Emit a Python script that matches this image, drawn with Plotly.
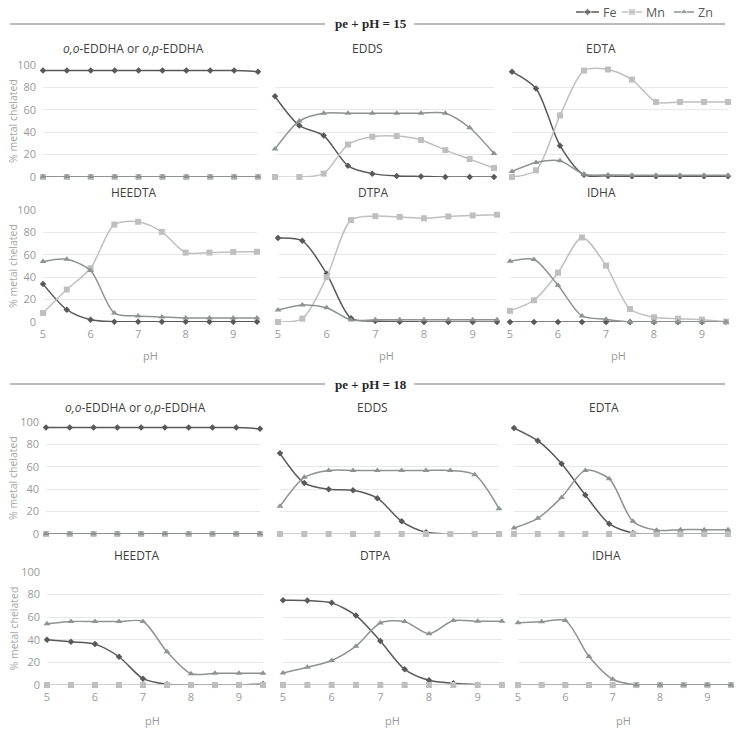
import plotly.graph_objects as go

W, H = 742, 729

ph = [5, 5.5, 6, 6.5, 7, 7.5, 8, 8.5, 9, 9.5]
ph_ticks = [5, 6, 7, 8, 9]
y_ticks = [0, 20, 40, 60, 80, 100]

# ---- pe + pH = 15 ----
fe15_eddha = [95, 95, 95, 95, 95, 95, 95, 95, 95, 94]
mn15_eddha = [0, 0, 0, 0, 0, 0, 0, 0, 0, 0]
zn15_eddha = [0.3, 0.3, 0.3, 0.3, 0.3, 0.3, 0.3, 0.3, 0.3, 0.3]

fe15_edds = [72, 46, 37, 10, 3, 1, 0.5, 0, 0, 0]
mn15_edds = [0, 0, 3, 29, 36, 36.5, 33, 24, 16, 8]
zn15_edds = [25, 50, 57, 57, 57, 57, 57, 57, 44, 21]

fe15_edta = [94, 79, 28, 2, 1, 0.7, 0.6, 0.6, 0.6, 0.6]
mn15_edta = [0, 6, 55, 95, 96, 87, 67, 67, 67, 67]
zn15_edta = [5, 13, 14.5, 2.4, 1.8, 1.6, 1.5, 1.5, 1.5, 1.5]

fe15_heedta = [34, 11, 2, 0.3, 0.3, 0.3, 0.3, 0.3, 0.3, 0.3]
mn15_heedta = [8, 29, 48, 87, 89.5, 80.5, 62, 62, 62.5, 62.7]
zn15_heedta = [54, 56, 46, 8, 5.4, 4.5, 3.6, 3.6, 3.6, 3.6]

fe15_dtpa = [75, 72.5, 43, 3.3, 0.9, 0.3, 0, 0, 0, 0]
mn15_dtpa = [0, 3, 40, 91, 94.5, 93.8, 92.6, 94.3, 95.2, 95.8]
zn15_dtpa = [10.7, 15.2, 12.8, 1.8, 2, 2, 2, 2, 2, 2]

fe15_idha = [0, 0, 0, 0, 0, 0, 0, 0, 0, 0]
mn15_idha = [10, 19.4, 44, 75.5, 50.4, 11.6, 4.2, 3, 2.1, 0.3]
zn15_idha = [54.3, 55.8, 32.8, 5.4, 2.4, 0, 0, 0, 0, 0]

# ---- pe + pH = 18 ----
fe18_eddha = [95, 95, 95, 95, 95, 95, 95, 95, 95, 94]
mn18_eddha = [0, 0, 0, 0, 0, 0, 0, 0, 0, 0]
zn18_eddha = [0.3, 0.3, 0.3, 0.3, 0.3, 0.3, 0.3, 0.3, 0.3, 0.3]

fe18_edds = [72, 45.5, 40, 39, 32, 11.3, 1.5, 0, 0, 0]
mn18_edds = [0, 0, 0, 0, 0, 0, 0, 0, 0, 0]
zn18_edds = [24.7, 50.6, 56.8, 56.8, 56.8, 56.8, 56.8, 56.8, 53, 22.6]

fe18_edta = [94.6, 83.3, 62.8, 34.8, 9.2, 0.9, 0, 0, 0, 0]
mn18_edta = [0, 0, 0, 0, 0, 0, 0, 0, 0, 0]
zn18_edta = [5.4, 14, 32.7, 56.8, 49.4, 11.3, 3.3, 3.9, 3.9, 3.9]

fe18_heedta = [40, 38.2, 36.2, 25, 5.6, 0.6, 0, 0, 0, 0.9]
mn18_heedta = [0, 0, 0, 0, 0, 0, 0, 0, 0, 0]
zn18_heedta = [54.1, 56.2, 56.2, 56.2, 56.2, 29.4, 10, 10.3, 10.3, 10.3]

fe18_dtpa = [75, 74.8, 72.7, 61.4, 38.9, 13.9, 4.2, 1.5, 0.3, 0]
mn18_dtpa = [0, 0, 0, 0, 0, 0, 0, 0, 0, 0]
zn18_dtpa = [10.7, 15.7, 21.7, 34.4, 54.9, 56.1, 45.4, 57, 56.4, 56.4]

fe18_idha = [0, 0, 0, 0, 0, 0, 0, 0, 0, 0]
mn18_idha = [0, 0, 0, 0, 0, 0, 0, 0, 0, 0]
zn18_idha = [55, 55.9, 57, 25.2, 5.1, 0, 0, 0, 0, 0]

chelates = ["<i>o,o</i>-EDDHA or <i>o,p</i>-EDDHA", "EDDS", "EDTA", "HEEDTA", "DTPA", "IDHA"]
panels = [
    (fe15_eddha, mn15_eddha, zn15_eddha), (fe15_edds, mn15_edds, zn15_edds),
    (fe15_edta, mn15_edta, zn15_edta), (fe15_heedta, mn15_heedta, zn15_heedta),
    (fe15_dtpa, mn15_dtpa, zn15_dtpa), (fe15_idha, mn15_idha, zn15_idha),
    (fe18_eddha, mn18_eddha, zn18_eddha), (fe18_edds, mn18_edds, zn18_edds),
    (fe18_edta, mn18_edta, zn18_edta), (fe18_heedta, mn18_heedta, zn18_heedta),
    (fe18_dtpa, mn18_dtpa, zn18_dtpa), (fe18_idha, mn18_idha, zn18_idha),
]
series_names = ["Fe", "Mn", "Zn"]
series_colors = ["#595959", "#bfbfbf", "#8e9292"]
series_symbols = ["diamond", "square", "triangle-up"]
series_sizes = [5, 6, 6]

# layout geometry in window pixels
row_y = [(65, 177), (210, 322), (422, 534), (572, 685)]
col_x = [
    [(43, 258), (275, 494), (512, 728)],
    [(43, 257), (278, 497), (510, 726)],
    [(46, 260), (280, 499), (514, 728)],
    [(47, 263), (283, 502), (518, 731)],
]
title_pos = [
    [(133, 48), (367, 48), (601, 48)],
    [(134, 193), (373, 193), (601, 193)],
    [(135, 407), (372, 407), (604, 407)],
    [(137, 555), (376, 555), (606, 555)],
]
ph_pos = {1: [(150, 356), (386, 356), (618, 356)], 3: [(152, 720), (392, 720), (623, 720)]}
legend_glyph_x = [(576, 599), (622, 642), (674, 694)]
legend_text_x = [601, 644, 696]
legend_y = 12
legend_box = (560, 725, 4, 20)


def px(x):
    return x / W


def py(y):
    return 1 - y / H


fig = go.Figure()
layout = dict(
    width=W, height=H, margin=dict(l=0, r=0, t=0, b=0, pad=0, autoexpand=False),
    plot_bgcolor="rgba(0,0,0,0)", paper_bgcolor="white",
    font=dict(family="Open Sans", color="#595959"),
    showlegend=False,
)
annotations = []
shapes = []

for i, (fe, mn, zn) in enumerate(panels):
    row, col = i // 3, i % 3
    idx = i + 1
    xa = "x" if idx == 1 else f"x{idx}"
    ya = "y" if idx == 1 else f"y{idx}"
    for k, vals in enumerate((fe, mn, zn)):
        fig.add_trace(go.Scatter(
            x=ph, y=vals, xaxis=xa, yaxis=ya, name=series_names[k],
            mode="lines+markers", line=dict(color=series_colors[k], width=1.5, shape="spline", smoothing=0.8),
            marker=dict(symbol=series_symbols[k], size=series_sizes[k], color=series_colors[k]),
            cliponaxis=False,
        ))
    x0, x1 = col_x[row][col]
    y0, y1 = row_y[row]
    layout["xaxis" if idx == 1 else f"xaxis{idx}"] = dict(
        domain=[px(x0), px(x1)], anchor=ya, range=[5, 9.5], showgrid=False, zeroline=False,
        showline=False, tickvals=ph_ticks, showticklabels=(row in (1, 3)), ticks="", ticklabelstandoff=4,
        tickfont=dict(size=11, color="#9a9a9a", family="Open Sans"), fixedrange=True, automargin=False,
    )
    layout["yaxis" if idx == 1 else f"yaxis{idx}"] = dict(
        domain=[py(y1), py(y0)], anchor=xa, range=[0, 100.01], showgrid=True,
        gridcolor="#e8e8e8", gridwidth=1, zeroline=False, showline=False,
        tickvals=y_ticks, showticklabels=(col == 0), ticks="", ticklabelstandoff=6,
        tickfont=dict(size=11, color="#9a9a9a", family="Open Sans"), fixedrange=True, automargin=False,
    )
    tx, ty = title_pos[row][col]
    annotations.append(dict(text=chelates[i % 6], x=px(tx), y=py(ty), xref="paper", yref="paper",
                            xanchor="center", yanchor="middle",
                            showarrow=False, font=dict(size=12, color="#404040", family="Open Sans")))
    if row in ph_pos:
        hx, hy = ph_pos[row][col]
        annotations.append(dict(text="pH", x=px(hx), y=py(hy), xref="paper", yref="paper",
                                xanchor="center", yanchor="middle",
                                showarrow=False, font=dict(size=11, color="#9a9a9a", family="Open Sans")))
    if col == 0:
        annotations.append(dict(text="% metal chelated", x=px(13), y=py((y0 + y1) / 2), xref="paper",
                                yref="paper", showarrow=False, textangle=-90,
                                xanchor="center", yanchor="middle",
                                font=dict(size=10.5, color="#a6a6a6", family="Open Sans")))

# legend drawn on a small overlay axis measured in window pixels
lx0, lx1, ly0, ly1 = legend_box
layout["xaxis13"] = dict(domain=[px(lx0), px(lx1)], range=[lx0, lx1], anchor="y13", visible=False,
                         fixedrange=True, automargin=False)
layout["yaxis13"] = dict(domain=[py(ly1), py(ly0)], range=[ly1, ly0], anchor="x13", visible=False,
                         fixedrange=True, automargin=False)
for k in range(3):
    gx0, gx1 = legend_glyph_x[k]
    fig.add_trace(go.Scatter(
        x=[gx0, (gx0 + gx1) / 2, gx1], y=[legend_y] * 3, xaxis="x13", yaxis="y13",
        mode="lines+markers", line=dict(color=series_colors[k], width=1.5),
        marker=dict(symbol=series_symbols[k], size=[0, series_sizes[k] + 1, 0], color=series_colors[k]),
        cliponaxis=False, hoverinfo="skip",
    ))
    annotations.append(dict(text=series_names[k], x=px(legend_text_x[k]), y=py(legend_y), xref="paper",
                            yref="paper", xanchor="left", yanchor="middle", showarrow=False,
                            font=dict(size=12.5, color="#595959", family="Open Sans")))

for label, yy in (("pe + pH = 15", 24), ("pe + pH = 18", 384)):
    annotations.append(dict(text=f"<b>{label}</b>", x=px(371), y=py(yy), xref="paper", yref="paper",
                            xanchor="center", yanchor="middle",
                            showarrow=False, font=dict(size=13, color="#262626", family="Liberation Serif")))
    for xa0, xa1 in ((10, 325), (414, 725)):
        shapes.append(dict(type="line", xref="paper", yref="paper", x0=px(xa0), x1=px(xa1),
                           y0=py(yy), y1=py(yy), line=dict(color="#a6a6a6", width=1.5)))

layout["annotations"] = annotations
layout["shapes"] = shapes
fig.update_layout(**layout)
fig.write_html("out.html", config={"displayModeBar": False},
               post_script="document.body.style.margin='0px';")
